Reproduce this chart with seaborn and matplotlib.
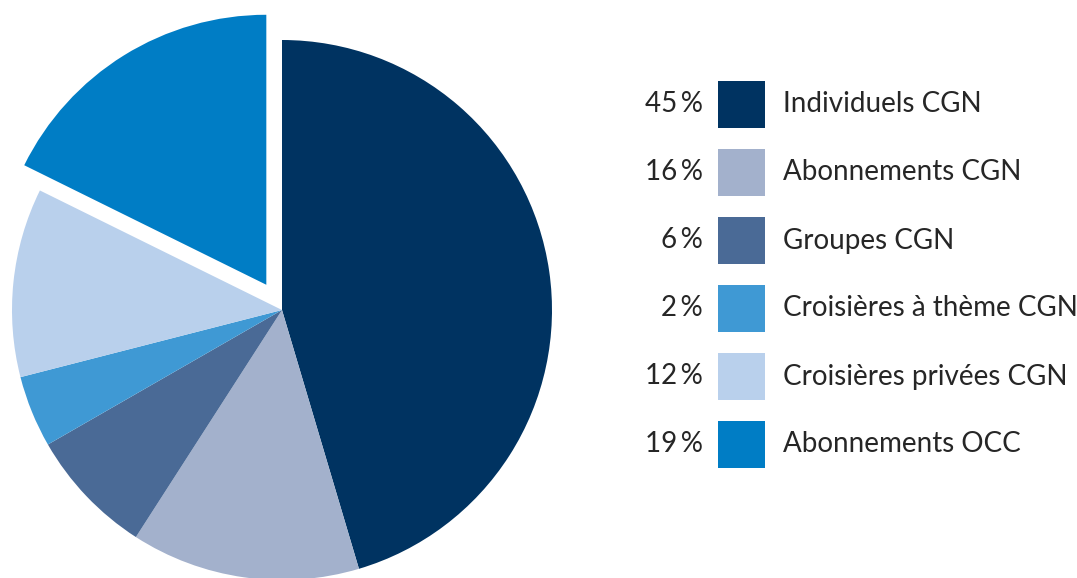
import numpy as np
import seaborn as sns
import matplotlib
matplotlib.use("Agg")
import matplotlib.pyplot as plt
from matplotlib.patches import Rectangle

sns.set_theme(style="white")
plt.rcParams['font.family'] = ['Lato', 'DejaVu Sans']

# slice sizes as drawn (degrees, in percent)
categories = ['Individuels CGN', 'Abonnements CGN', 'Groupes CGN',
              'Croisières à thème CGN', 'Croisières privées CGN', 'Abonnements OCC']
slice_share = [45.4, 13.7, 7.6, 4.3, 11.3, 17.7]
label_pct = [45, 16, 6, 2, 12, 19]
colors = ['#003361', '#a3b1cc', '#4a6a96', '#3f99d4', '#b9d0ec', '#007dc5']
explode_frac = [0, 0, 0, 0, 0, 0.11]

W, H = 1077, 578
radius = 270
fig = plt.figure(figsize=(W / 100, H / 100), dpi=100)
ax = fig.add_axes([0, 0, 1, 1])

# matplotlib's explode is in data units, so scale by the radius
ax.pie(slice_share, colors=colors, explode=[e * radius for e in explode_frac],
       startangle=90, counterclock=False, center=(282, H - 310), radius=radius,
       wedgeprops=dict(linewidth=0))
ax.set_xlim(0, W)
ax.set_ylim(0, H)
ax.set_aspect('equal')
ax.set_axis_off()

# legend: percentage, swatch, label
row_top = 81
row_step = 68
sw = 47
txt_color = '#262626'
for i, (cat, pct, col) in enumerate(zip(categories, label_pct, colors)):
    yc = H - (row_top + sw / 2 + i * row_step)
    ax.add_patch(Rectangle((718, yc - sw / 2), sw, sw, color=col, lw=0))
    ax.text(703, yc, f"{pct}\u2009%", ha='right', va='center',
            fontsize=20, color=txt_color)
    ax.text(783, yc, cat, ha='left', va='center',
            fontsize=20, color=txt_color)

fig.savefig('out.png', dpi=100)
